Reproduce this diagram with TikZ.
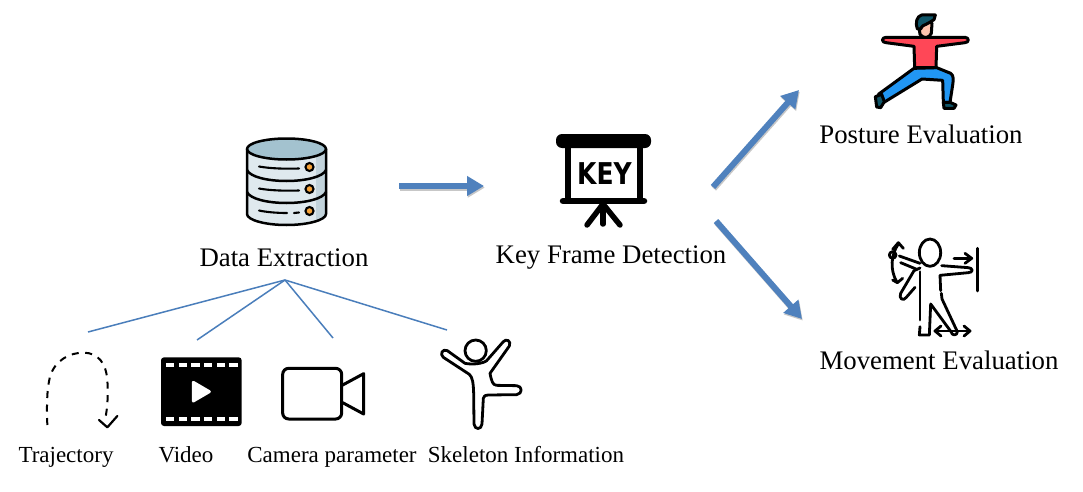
\documentclass[tikz,border=0pt]{standalone}
\usepackage{fontspec}
\setmainfont{Liberation Serif}
\newfontfamily\keyfont{DejaVu Sans}
\usetikzlibrary{arrows.meta}
\definecolor{flow}{HTML}{4F81BD}
\definecolor{thinflow}{HTML}{4A7EBB}
\definecolor{dbtop}{HTML}{A3C2CF}
\definecolor{dbbody}{HTML}{DFE9EE}
\definecolor{dbshade}{HTML}{C2D3DB}
\definecolor{dbdot}{HTML}{F7A43A}
\definecolor{shirt}{HTML}{FF4757}
\definecolor{jeans}{HTML}{2196F3}
\definecolor{hair}{HTML}{0F5568}
\definecolor{skin}{HTML}{FFC4AE}
\tikzset{
  biglabel/.style={font=\fontsize{26.8}{30}\selectfont,inner sep=0pt,text=black,anchor=base},
  smalllabel/.style={font=\fontsize{23}{26}\selectfont,inner sep=0pt,text=black,anchor=base},
  flowarrow/.style={draw=flow,line width=6pt,-{Triangle[length=17pt,width=19pt]}},
  flowshadow/.style={draw=black!22,line width=6pt,-{Triangle[length=17pt,width=19pt]}},
  branch/.style={draw=thinflow,line width=1.5pt},
  ink/.style={draw=black,line cap=round,line join=round},
  icon/.style={scale=0.33333}
}
\begin{document}
\begin{tikzpicture}[x=1pt,y=-1pt]
\useasboundingbox[fill=white] (0,0) rectangle (1083,492);

% labels
\node[biglabel] (dataLabel) at (284,266) {Data Extraction};
\node[biglabel] (keyLabel) at (611,263) {Key Frame Detection};
\node[biglabel] (postureLabel) at (921,143) {Posture Evaluation};
\node[biglabel] (movementLabel) at (939,369) {Movement Evaluation};
\node[smalllabel] (trajLabel) at (66,462) {Trajectory};
\node[smalllabel] (videoLabel) at (186,462) {Video};
\node[smalllabel] (camLabel) at (332,462) {Camera parameter};
\node[smalllabel] (skelLabel) at (526,462) {Skeleton Information};

% connectors
\coordinate (apex) at (285,280);
\coordinate (bTraj) at (88,332);
\coordinate (bVideo) at (197,340);
\coordinate (bCam) at (333,338);
\coordinate (bSkel) at (447,330);
\draw[branch] (apex) -- (bTraj);
\draw[branch] (apex) -- (bVideo);
\draw[branch] (apex) -- (bCam);
\draw[branch] (apex) -- (bSkel);
\coordinate (dataOut) at (399,186);
\coordinate (keyIn) at (484,186);
\coordinate (keyOutA) at (713,187);
\coordinate (postIn) at (799,90);
\coordinate (keyOutB) at (716,221);
\coordinate (moveIn) at (802,319);
\draw[flowshadow] ([shift={(0.8,1.6)}]dataOut) -- ([shift={(0.8,1.6)}]keyIn);
\draw[flowshadow] ([shift={(0.8,1.6)}]keyOutA) -- ([shift={(0.8,1.6)}]postIn);
\draw[flowshadow] ([shift={(0.8,1.6)}]keyOutB) -- ([shift={(0.8,1.6)}]moveIn);
\draw[flowarrow] (dataOut) -- (keyIn);
\draw[flowarrow] (keyOutA) -- (postIn);
\draw[flowarrow] (keyOutB) -- (moveIn);

% database
\begin{scope}
  \path[fill=dbbody] (247,149) -- (247,214) .. controls (247,220) and (265,225) .. (286.5,225) .. controls (308,225) and (326,220) .. (326,214) -- (326,149) -- cycle;
  \path[fill=dbshade] (316,155) -- (326,149) -- (326,214) .. controls (326,218) and (322,220) .. (316,222) -- cycle;
  \draw[ink,line width=2.5pt,fill=dbtop] (286.5,149) ellipse[x radius=39.5,y radius=10.5];
  \draw[ink,line width=2.5pt] (247,149) -- (247,214) .. controls (247,220) and (265,225) .. (286.5,225) .. controls (308,225) and (326,220) .. (326,214) -- (326,149);
  \draw[ink,line width=2.5pt] (247,170) .. controls (250,177) and (268,181) .. (286.5,181) .. controls (305,181) and (323,177) .. (326,170);
  \draw[ink,line width=2.5pt] (247,192) .. controls (250,199) and (268,203) .. (286.5,203) .. controls (305,203) and (323,199) .. (326,192);
  \draw[ink,line width=2.1pt] (259,166.5) .. controls (270,168.5) and (285,169) .. (299,168.5);
  \draw[ink,line width=2.1pt] (259,188.5) .. controls (270,190.5) and (285,191) .. (299,190.5);
  \draw[ink,line width=2.1pt] (259,210.5) .. controls (266,212) and (276,213) .. (287,213);
  \draw[ink,line width=2.1pt] (294,213) -- (299,212.5);
  \foreach \yy in {167,189,211}{
    \draw[draw=black,line width=2.1pt,fill=dbdot] (309.5,\yy) circle[radius=4];
  }
\end{scope}

% key board
\begin{scope}
  \fill[black,rounded corners=6pt] (556,134) rectangle (651,148);
  \draw[draw=black,line width=6.5pt] (568,145) -- (568,201);
  \draw[draw=black,line width=6.5pt] (640,145) -- (640,201);
  \draw[ink,line width=6.5pt] (563,201) -- (644,201);
  \draw[ink,line width=5.5pt] (603,201) -- (603,224);
  \draw[ink,line width=5.5pt] (603,204) -- (587,225);
  \draw[ink,line width=5.5pt] (603,204) -- (620,225);
  \node[inner sep=0pt,font=\keyfont\bfseries\fontsize{25}{25}\selectfont] (keyWord) at (604.5,174) {\scalebox{1}[1.2]{KEY}};
\end{scope}

% yoga figure
\begin{scope}[shift={(860,5)},icon]
  \tikzset{every path/.append style={ink,line width=3pt}}
  \draw[fill=jeans] (162,190) -- (230,188) -- (272,205) .. controls (282,212) and (280,225) .. (278,240) -- (270,292) -- (250,292) -- (248,226) -- (186,222) -- (72,292) -- (55,268) -- cycle;
  \draw[fill=hair] (46,275) -- (65,268) -- (73,290) -- (62,308) -- (50,306) -- cycle;
  \draw[fill=hair] (250,292) -- (270,292) -- (288,300) -- (282,310) -- (252,310) -- cycle;
  \draw[fill=shirt] (78,97) -- (315,97) .. controls (328,97) and (328,113) .. (315,113) -- (230,124) -- (228,188) -- (164,188) -- (162,124) -- (78,113) .. controls (64,113) and (64,97) .. (78,97) -- cycle;
  \draw[fill=skin] (176,60) -- (180,88) .. controls (190,102) and (208,100) .. (214,85) -- (216,55) -- (200,45) -- cycle;
  \draw[fill=hair] (182,72) -- (172,72) .. controls (165,55) and (170,33) .. (185,30) -- (226,30) -- (222,44) .. controls (212,50) and (205,55) .. (198,58) .. controls (192,60) and (186,62) .. (182,72) -- cycle;
\end{scope}

% movement figure
\begin{scope}[shift={(870,230)},icon]
  \tikzset{every path/.append style={ink,line width=2.8pt}}
  \draw (180,68) ellipse[x radius=32,y radius=41];
  \draw (88,78) -- (150,100);
  \draw (92,98) -- (138,117);
  \draw (215,107) -- (295,113) .. controls (310,114) and (310,128) .. (295,128) -- (210,136) -- (212,182);
  \draw (214,190) -- (216,207) -- (262,305) .. controls (262,318) and (245,318) .. (243,305) -- (182,222) -- (178,315) -- (148,315) -- (150,290);
  \draw (150,125) -- (150,270);
  \draw (150,114) -- (132,122) -- (92,190) .. controls (85,205) and (100,215) .. (108,203) -- (135,172);
  \draw (68,75) circle[radius=10];
  \draw (85,42) .. controls (62,75) and (60,120) .. (80,155);
  \draw (68,58) -- (85,38) -- (100,55);
  \draw (68,150) -- (82,158) -- (98,145);
  \draw (252,85) -- (305,85);
  \draw (285,70) -- (305,85) -- (285,100);
  \draw (322,55) -- (322,183);
  \draw (195,303) -- (300,303);
  \draw (213,288) -- (195,303) -- (213,318);
  \draw (282,288) -- (300,303) -- (282,318);
\end{scope}

% trajectory
\begin{scope}[shift={(30,340)},icon]
  \draw[draw=black,line width=2pt,dash pattern=on 7pt off 6.5pt] (52,255) .. controls (50,200) and (50,150) .. (60,110) .. controls (75,60) and (120,38) .. (160,38) .. controls (205,38) and (228,70) .. (232,120) .. controls (235,170) and (232,205) .. (226,235);
  \draw[ink,line width=2.2pt] (207,240) -- (232,262) -- (262,228);
\end{scope}

% video
\begin{scope}[shift={(30,340)},icon]
  \fill[black,rounded corners=3pt] (393,52) rectangle (635,258);
  \foreach \xx in {408,446,484,522,560,598}{
    \fill[white] (\xx,68) rectangle ++(25,12);
    \fill[white] (\xx,232) rectangle ++(25,12);
  }
  \draw[draw=white,fill=white,line width=3pt,line join=round] (490,127) -- (538,155) -- (490,183) -- cycle;
\end{scope}

% camera
\begin{scope}[shift={(270,330)},icon]
  \draw[draw=black,line width=3pt,rounded corners=6pt] (38,115) rectangle (215,267);
  \draw[ink,line width=3pt] (218,165) -- (281,131) -- (281,252) -- (218,218);
\end{scope}

% skeleton
\begin{scope}[shift={(270,330)},icon]
  \draw[ink,line width=2.8pt] (617,62) circle[radius=32];
  \draw[ink,line width=2.8pt] (585,100) -- (532,62) .. controls (518,55) and (508,72) .. (520,82) -- (598,133) .. controls (608,142) and (610,160) .. (611,190) -- (612,282) .. controls (614,300) and (634,300) .. (636,282) -- (640,205) .. controls (641,198) and (645,196) .. (655,195) -- (740,194) .. controls (758,192) and (758,168) .. (740,167) -- (680,166) .. controls (668,165) and (665,155) .. (660,130) -- (718,48) .. controls (725,32) and (708,25) .. (700,35) -- (650,92) .. controls (640,100) and (610,105) .. (585,100) -- cycle;
\end{scope}
\end{tikzpicture}
\end{document}
